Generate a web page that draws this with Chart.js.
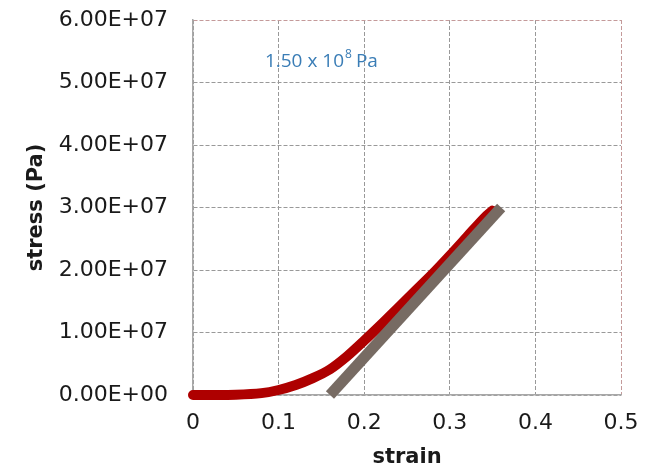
<!DOCTYPE html>
<html>
<head>
<meta charset="utf-8">
<script src="https://cdn.jsdelivr.net/npm/chart.js@4"></script>
<style>
  html, body { margin: 0; padding: 0; background: #fff; }
  #wrap { width: 656px; height: 468px; }
</style>
</head>
<body>
<div id="wrap"><canvas id="stressChart"></canvas></div>
<script>
const strainData = [0, 0.02, 0.05, 0.08, 0.10, 0.12, 0.14, 0.16, 0.18, 0.20, 0.22, 0.24, 0.26, 0.28, 0.30, 0.32, 0.34, 0.35];
const stressData = [0, 0, 0.05e6, 0.3e6, 0.8e6, 1.6e6, 2.7e6, 4.1e6, 6.2e6, 8.7e6, 11.3e6, 14.0e6, 16.7e6, 19.4e6, 22.3e6, 25.3e6, 28.3e6, 29.5e6];

// linear fit, slope 1.50 x 10^8 Pa
const fitStrain = [0.16, 0.36];
const fitStress = [0, 3.0e7];

const xTickLabels = ['0', '0.1', '0.2', '0.3', '0.4', '0.5'];
const yTickLabels = ['0.00E+00', '1.00E+07', '2.00E+07', '3.00E+07', '4.00E+07', '5.00E+07', '6.00E+07'];

const toPoints = (xs, ys) => xs.map((x, i) => ({ x: x, y: ys[i] }));

// slope label inside the plot
const slopeLabel = {
    id: 'slopeLabel',
    afterDatasetsDraw(chart) {
        const { ctx, scales } = chart;
        const x = scales.x.getPixelForValue(0.084);
        const y = scales.y.getPixelForValue(5.33e7);
        ctx.save();
        ctx.fillStyle = '#3a7db6';
        ctx.textBaseline = 'middle';
        ctx.font = '19px "Open Sans"';
        ctx.fillText('1.50 x 10', x, y);
        let w = ctx.measureText('1.50 x 10').width;
        ctx.font = '12px "Open Sans"';
        ctx.fillText('8', x + w + 1, y - 7);
        w += ctx.measureText('8').width + 5;
        ctx.font = '19px "Open Sans"';
        ctx.fillText('Pa', x + w, y);
        ctx.restore();
    }
};

const edgeColor = '#c49a9a';
const tickFont = { family: 'DejaVu Sans', size: 22 };
const titleFont = { family: 'DejaVu Sans', size: 21, weight: 'bold', lineHeight: 1 };

new Chart(document.getElementById('stressChart').getContext('2d'), {
    type: 'scatter',
    data: {
        datasets: [{
            label: 'fit',
            data: toPoints(fitStrain, fitStress),
            showLine: true,
            borderColor: '#776b63',
            borderWidth: 11,
            borderCapStyle: 'butt',
            pointRadius: 0,
            clip: false,
            order: 0
        }, {
            label: 'stress',
            data: toPoints(strainData, stressData),
            showLine: true,
            borderColor: '#ae0000',
            borderWidth: 10,
            borderCapStyle: 'round',
            borderJoinStyle: 'round',
            tension: 0.3,
            pointRadius: 0,
            clip: false,
            order: 1
        }]
    },
    options: {
        responsive: true,
        maintainAspectRatio: false,
        animation: false,
        layout: {
            padding: { top: 20, right: 35, bottom: 0, left: 0 }
        },
        plugins: {
            legend: { display: false },
            tooltip: { enabled: false }
        },
        scales: {
            x: {
                type: 'linear',
                min: 0,
                max: 0.5,
                afterFit(scale) { scale.height = 73; },
                afterBuildTicks(scale) {
                    scale.ticks = xTickLabels.map((t, i) => ({ value: i * 0.1 }));
                },
                ticks: {
                    padding: 15,
                    color: '#1a1a1a',
                    font: tickFont,
                    callback: (v, i) => xTickLabels[i]
                },
                grid: {
                    drawTicks: false,
                    color: (c) => c.index === xTickLabels.length - 1 ? edgeColor : '#999999',
                    lineWidth: 1
                },
                border: { display: true, color: '#a8a8a8', width: 1.5, dash: [4, 2] },
                title: {
                    display: true,
                    text: 'strain',
                    color: '#1a1a1a',
                    padding: { top: 0, bottom: 0 },
                    font: titleFont
                }
            },
            y: {
                min: 0,
                max: 6e7,
                afterFit(scale) { scale.width = 193; },
                afterBuildTicks(scale) {
                    scale.ticks = yTickLabels.map((t, i) => ({ value: i * 1e7 }));
                },
                ticks: {
                    padding: 3,
                    color: '#1a1a1a',
                    font: tickFont,
                    callback: (v, i) => yTickLabels[i]
                },
                grid: {
                    drawTicks: true,
                    tickLength: 22,
                    tickColor: 'rgba(0,0,0,0)',
                    color: (c) => c.index === yTickLabels.length - 1 ? edgeColor : '#999999',
                    lineWidth: 1
                },
                border: { display: true, color: '#a8a8a8', width: 1.5, dash: [4, 2] },
                title: {
                    display: true,
                    text: 'stress (Pa)',
                    color: '#1a1a1a',
                    padding: { top: 26, bottom: 0 },
                    font: titleFont
                }
            }
        }
    },
    plugins: [slopeLabel]
});
</script>
</body>
</html>
